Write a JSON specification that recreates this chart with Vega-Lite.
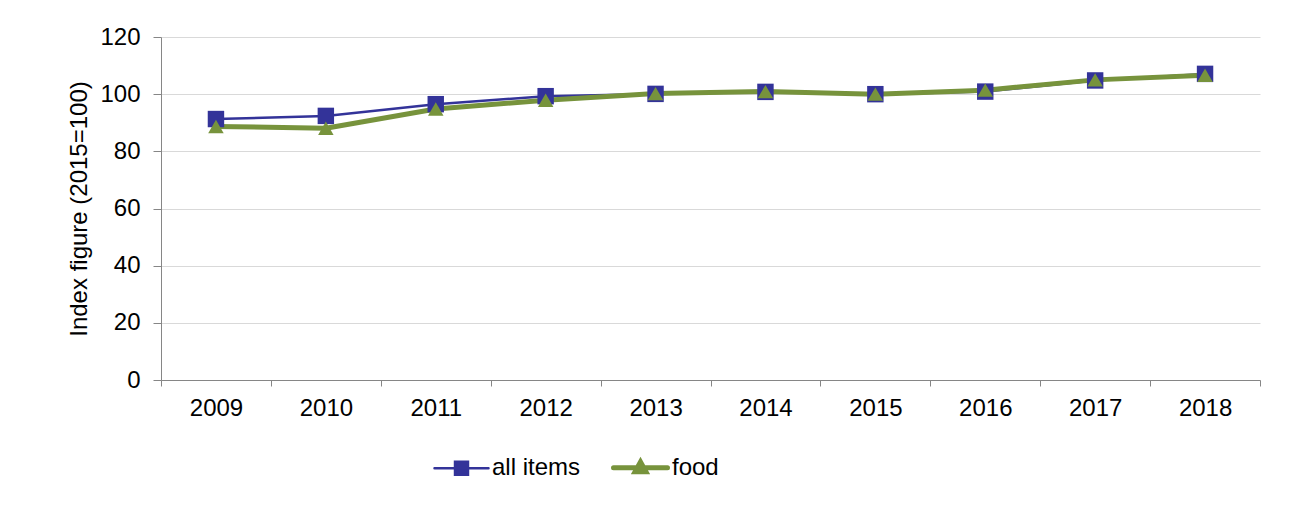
{
  "$schema": "https://vega.github.io/schema/vega-lite/v6.json",
  "width": 1099,
  "height": 343,
  "autosize": {"type": "none"},
  "padding": {"left": 161, "top": 37, "right": 32, "bottom": 132},
  "background": "white",
  "config": {
    "view": {"stroke": null},
    "font": "Liberation Sans",
    "axis": {"labelFont": "Liberation Sans", "titleFont": "Liberation Sans", "labelColor": "black", "titleColor": "black"}
  },
  "data": {
    "values": [
      {"year": 2009, "series": "all items", "value": 91.3},
      {"year": 2010, "series": "all items", "value": 92.4},
      {"year": 2011, "series": "all items", "value": 96.5},
      {"year": 2012, "series": "all items", "value": 99.3},
      {"year": 2013, "series": "all items", "value": 100.1},
      {"year": 2014, "series": "all items", "value": 100.8},
      {"year": 2015, "series": "all items", "value": 100.0},
      {"year": 2016, "series": "all items", "value": 100.9},
      {"year": 2017, "series": "all items", "value": 104.8},
      {"year": 2018, "series": "all items", "value": 107.1},
      {"year": 2009, "series": "food", "value": 88.7},
      {"year": 2010, "series": "food", "value": 88.1},
      {"year": 2011, "series": "food", "value": 94.8},
      {"year": 2012, "series": "food", "value": 97.9},
      {"year": 2013, "series": "food", "value": 100.2},
      {"year": 2014, "series": "food", "value": 100.9},
      {"year": 2015, "series": "food", "value": 100.0},
      {"year": 2016, "series": "food", "value": 101.4},
      {"year": 2017, "series": "food", "value": 105.0},
      {"year": 2018, "series": "food", "value": 106.6}
    ]
  },
  "encoding": {
    "x": {
      "field": "year",
      "type": "quantitative",
      "scale": {"domain": [2008.5, 2018.5], "nice": false, "zero": false},
      "axis": {
        "title": null,
        "values": [2008.5, 2009.5, 2010.5, 2011.5, 2012.5, 2013.5, 2014.5, 2015.5, 2016.5, 2017.5, 2018.5],
        "labelExpr": "datum.value > 2018 ? '' : format(datum.value + 0.5, 'd')",
        "labelOffset": 55,
        "labelFontSize": 24,
        "labelPadding": 10,
        "tickSize": 6,
        "tickColor": "#868686",
        "domainColor": "#868686",
        "grid": false,
        "labelFlush": false,
        "labelOverlap": false
      }
    },
    "y": {
      "field": "value",
      "type": "quantitative",
      "scale": {"domain": [0, 120], "nice": false},
      "axis": {
        "title": "Index figure (2015=100)",
        "titleFontSize": 24,
        "titleFontWeight": "normal",
        "titlePadding": 8,
        "values": [0, 20, 40, 60, 80, 100, 120],
        "labelFontSize": 24,
        "labelPadding": 13,
        "tickSize": 8,
        "tickColor": "#868686",
        "domainColor": "#868686",
        "gridColor": "#d9d9d9",
        "gridWidth": 1
      }
    },
    "color": {
      "field": "series",
      "type": "nominal",
      "scale": {"domain": ["all items", "food"], "range": ["#333399", "#77933C"]},
      "legend": {
        "title": null,
        "orient": "none",
        "direction": "horizontal",
        "legendX": 272,
        "legendY": 401,
        "padding": 0,
        "symbolSize": 2916,
        "symbolStrokeWidth": 2.5,
        "labelFontSize": 24,
        "labelFont": "Liberation Sans",
        "labelColor": "black",
        "labelOffset": 2,
        "columnPadding": 22,
        "encode": {
          "symbols": {
            "update": {
              "shape": {"signal": "datum.value === 'food' ? 'M-1,0H1M-0.2,0.14L0,-0.22L0.2,0.14Z' : 'M-1,0H1M-0.24,-0.24H0.24V0.24H-0.24Z'"},
              "strokeWidth": {"signal": "datum.value === 'food' ? 5 : 2.5"},
              "fill": {"signal": "datum.value === 'food' ? '#77933C' : '#333399'"},
              "stroke": {"signal": "datum.value === 'food' ? '#77933C' : '#333399'"},
              "strokeCap": {"value": "round"},
              "opacity": {"value": 1}
            }
          }
        }
      }
    }
  },
  "layer": [
    {
      "mark": {"type": "line", "strokeCap": "round", "strokeJoin": "round"},
      "encoding": {
        "strokeWidth": {"field": "series", "type": "nominal", "scale": {"domain": ["all items", "food"], "range": [2.5, 5]}, "legend": null}
      }
    },
    {
      "transform": [{"filter": "datum.series === 'all items'"}],
      "mark": {"type": "point", "shape": "square", "filled": true, "opacity": 1, "size": 270}
    },
    {
      "transform": [{"filter": "datum.series === 'food'"}],
      "mark": {"type": "point", "shape": "triangle-up", "filled": true, "opacity": 1, "size": 240}
    }
  ]
}
